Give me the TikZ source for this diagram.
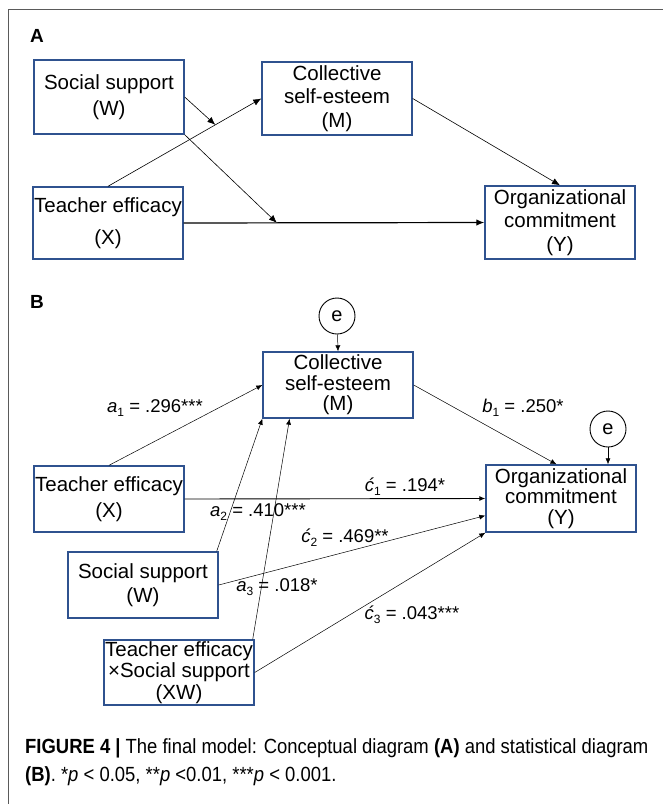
\documentclass[tikz,border=0pt]{standalone}
\usepackage{fontspec}
\setmainfont{Liberation Sans}
\newfontfamily\capfont[FakeStretch=0.9]{Liberation Sans}
\usetikzlibrary{arrows.meta,calc}

\definecolor{boxblue}{RGB}{47,82,143}
\definecolor{framegray}{RGB}{90,90,90}

\newcommand{\sub}[1]{\raisebox{-4pt}{\fontsize{12}{12}\selectfont #1}}

\tikzset{
  var/.style = {draw=boxblue, line width=1.4pt, minimum width=150pt,
                inner sep=0pt, align=center,
                font=\fontsize{20.5}{23.5}\selectfont},
  tight/.style = {font=\fontsize{20.5}{20.5}\selectfont},
  err/.style = {draw, circle, line width=0.9pt, minimum size=36pt,
                inner sep=0pt, font=\fontsize{20}{23}\selectfont},
  coef/.style = {font=\fontsize{18.5}{22}\selectfont, inner sep=1pt},
  panel/.style = {font=\bfseries\fontsize{19}{22}\selectfont}
}

\begin{document}
\begin{tikzpicture}[
            x = 1pt, y = -1pt,
            > = {Latex[length=8pt,width=6.5pt]}, % arrow head style
            thin/.style = {line width=0.5pt},
            small/.style = {-{Latex[length=6pt,width=5pt]}}
        ]
	\useasboundingbox (0,0) rectangle (662,804);
	\draw[framegray, line width=1pt] (8,820) -- (8,9) -- (680,9);

	% A: conceptual diagram
	\node[panel] (labA) at (37,36) {A};
	\node[var, minimum height=74pt] (W) at (109,97) {Social support\\[3pt](W)};
	\node[var, minimum height=73pt] (M) at (337,98.5) {Collective\\self-esteem\\(M)};
	\node[var, minimum height=72pt] (X) at (108,223) {Teacher efficacy\\[8pt](X)};
	\node[var, minimum height=73pt] (Y) at (560,222.5) {Organizational\\commitment\\(Y)};

	\coordinate (modM) at ($(X.north)!0.70!(M.west)$);
	\coordinate (modY) at ($(X.east)!0.31!(Y.west)$);

	\draw[->, line width=0.6pt] (X.north) -- (M.west);
	\draw[->, line width=0.6pt] (W.east) -- (modM);
	\draw[->, line width=0.6pt] (W.south east) -- (modY);
	\draw[->, line width=1.2pt] (X.east) -- (Y.west);
	\draw[->, line width=0.6pt] (M.east) -- (Y.north);

	% B: statistical diagram
	\node[panel] (labB) at (37,302) {B};
	\node[var, tight, minimum height=66pt] (M2) at (338,385) {Collective\\self-esteem\\(M)};
	\node[var, minimum height=66pt] (X2) at (109,499) {Teacher efficacy\\[3pt](X)};
	\node[var, tight, minimum height=67pt] (Y2) at (561,498.5) {Organizational\\commitment\\(Y)};
	\node[var, minimum height=66pt] (W2) at (143,585) {Social support\\[1pt](W)};
	\node[var, tight, minimum height=65pt] (XW) at (179,672.5) {Teacher efficacy\\[1pt]×Social support\\[1pt](XW)};
	\node[err] (eM) at (337,316) {e};
	\node[err] (eY) at (608,429) {e};

	\draw[small, thin] (eM) -- (M2.north);
	\draw[small, thin] (eY) -- (eY |- Y2.north);
	\draw[small, thin] (X2.north) -- (M2.west);
	\draw[small, thin] (M2.east) -- ($(Y2.north west)!0.47!(Y2.north east)$);
	\draw[small, line width=0.9pt] (X2.east) -- (Y2.west);
	\draw[small, thin] ($(W2.north east)+(-2,0)$) -- (M2.south west);
	\draw[small, thin] ($(XW.north east)+(-2,0)$) -- ($(M2.south west)!0.18!(M2.south east)$);
	\draw[small, thin] (W2.east) -- ($(Y2.west)!0.5!(Y2.south west)$);
	\draw[small, thin] (XW.east) -- (Y2.south west);

	\node[coef] (a1) at (155,408) {\textit{a}\sub{1} = .296***};
	\node[coef] (b1) at (523,408) {\textit{b}\sub{1} = .250*};
	\node[coef] (c1) at (405,487) {\textit{ć}\sub{1} = .194*};
	\node[coef] (a2) at (258,512) {\textit{a}\sub{2} = .410***};
	\node[coef] (c2) at (345,538) {\textit{ć}\sub{2} = .469**};
	\node[coef] (a3) at (277,587) {\textit{a}\sub{3} = .018*};
	\node[coef] (c3) at (412,615) {\textit{ć}\sub{3} = .043***};

	% caption
	\node[anchor=west, inner sep=0pt, font=\capfont\fontsize{20.5}{28}\selectfont] (cap1) at (25,748)
	  {\textbf{FIGURE 4 |} The final model: Conceptual diagram \textbf{(A)} and statistical diagram};
	\node[anchor=west, inner sep=0pt, font=\capfont\fontsize{20.5}{28}\selectfont] (cap2) at (25,776)
	  {\textbf{(B)}. *\textit{p} < 0.05, **\textit{p} <0.01, ***\textit{p} < 0.001.};
\end{tikzpicture}
\end{document}
